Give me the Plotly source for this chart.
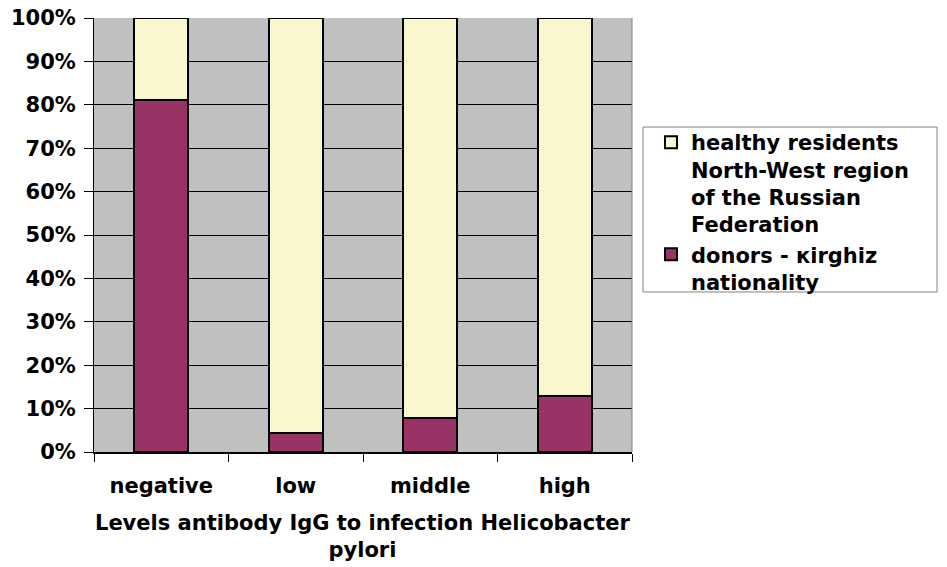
import plotly.graph_objects as go

categories = ["negative", "low", "middle", "high"]
donors_kirghiz = [0.81, 0.044, 0.079, 0.13]
healthy_residents = [0.19, 0.956, 0.921, 0.87]
y_tick_vals = [0, 0.1, 0.2, 0.3, 0.4, 0.5, 0.6, 0.7, 0.8, 0.9, 1.0]
y_tick_text = ["0%", "10%", "20%", "30%", "40%", "50%", "60%", "70%", "80%", "90%", "100%"]

FONT = "DejaVu Sans"

fig = go.Figure()
fig.add_trace(go.Bar(
    x=categories, y=donors_kirghiz,
    name="donors - кirghiz<br>nationality",
    marker=dict(color="#993366", line=dict(color="black", width=2)),
))
fig.add_trace(go.Bar(
    x=categories, y=healthy_residents,
    name="healthy residents<br>North-West region<br>of the Russian<br>Federation",
    marker=dict(color="#FAF7CF", line=dict(color="black", width=2)),
))

# page body has an 8px default margin; size/margins compensate for it
fig.update_layout(
    width=939, height=559,
    barmode="stack", bargap=0.6,
    paper_bgcolor="white", plot_bgcolor="#C0C0C0",
    margin=dict(l=86, r=315, t=10, b=115),
    font=dict(family=FONT, size=20, color="black", weight="bold"),
    legend=dict(
        x=1.0353, xanchor="left", y=0.7604, yanchor="top",
        bgcolor="rgba(0,0,0,0)", borderwidth=0,
        traceorder="reversed", valign="top",
        font=dict(family=FONT, size=21, color="black", weight="bold"),
    ),
    showlegend=True,
)
# legend frame
fig.add_shape(
    type="rect", xref="paper", yref="paper",
    x0=1.0204, x1=1.5670, y0=0.3687, y1=0.7488,
    fillcolor="white", line=dict(color="#808080", width=1), layer="below",
)
# right edge of plot area
fig.add_shape(
    type="line", xref="paper", yref="paper", x0=1, x1=1, y0=0, y1=1,
    line=dict(color="#808080", width=1),
)
fig.update_xaxes(
    type="category", tickson="boundaries", ticks="outside", ticklen=8,
    tickcolor="black", tickwidth=1, showline=True, linecolor="black", linewidth=2,
    showgrid=False, automargin=False, ticklabelstandoff=14,
    tickfont=dict(family=FONT, size=21, color="black", weight="bold"),
)
fig.update_yaxes(
    range=[0, 1], tickvals=y_tick_vals, ticktext=y_tick_text,
    ticks="outside", ticklen=9, tickcolor="black", tickwidth=1,
    showline=True, linecolor="black", linewidth=1,
    showgrid=True, gridcolor="black", gridwidth=1, zeroline=False,
    automargin=False, ticklabelstandoff=4, ticklabeloverflow="allow",
    tickfont=dict(family=FONT, size=21, color="black", weight="bold"),
)
fig.add_annotation(
    text="Levels antibody IgG to infection Helicobacter<br>pylori",
    xref="paper", yref="paper", x=0.5, y=-0.132, xanchor="center", yanchor="top",
    showarrow=False, align="center",
    font=dict(family=FONT, size=21, color="black", weight="bold"),
)
fig.write_html("out.html")
